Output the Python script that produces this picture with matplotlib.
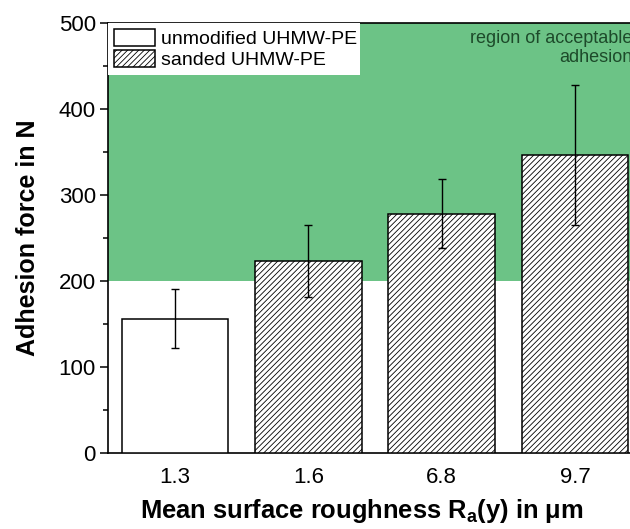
import matplotlib
matplotlib.use("Agg")
import matplotlib.pyplot as plt
from matplotlib.patches import Patch, Rectangle
from matplotlib.ticker import MultipleLocator

plt.rcParams['font.family'] = ['Liberation Sans', 'DejaVu Sans']
plt.rcParams['hatch.linewidth'] = 0.6
plt.rcParams['mathtext.fontset'] = 'custom'
plt.rcParams['mathtext.rm'] = 'Liberation Sans'
plt.rcParams['mathtext.bf'] = 'Liberation Sans:bold'

categories = ["1.3", "1.6", "6.8", "9.7"]
adhesion = [156, 223, 278, 346]
errors = [34, 42, 40, 81]
hatches = ["", "//////", "//////", "//////"]
legend_labels = ["unmodified UHMW-PE", "sanded UHMW-PE"]
region_low, region_high = 200, 500
region_text = "region of acceptable\nadhesion"

green = "#6cc386"
text_green = "#1d4a2a"

fig = plt.figure(figsize=(6.3, 5.29), dpi=100)
ax = fig.add_axes([0.1719, 0.1442, 0.8467, 0.8129])

ax.axhspan(region_low, region_high, color=green, zorder=0, lw=0)

x = list(range(len(categories)))
for xi, v, h in zip(x, adhesion, hatches):
    ax.bar(xi, v, width=0.8, facecolor="white", edgecolor="black",
           hatch=h, linewidth=1.1, zorder=3)
ax.errorbar(x, adhesion, yerr=errors, fmt="none", ecolor="black",
            elinewidth=1.0, capsize=3, capthick=1.0, zorder=4)

ax.set_xlim(-0.5, 3.5)
ax.set_ylim(0, 500)
ax.set_xticks(x)
ax.set_xticklabels(categories)
ax.yaxis.set_major_locator(MultipleLocator(100))
ax.yaxis.set_minor_locator(MultipleLocator(50))
ax.tick_params(axis="x", length=0, pad=10, labelsize=16)
ax.tick_params(axis="y", which="major", length=6, width=1.1, direction="out",
               pad=3, labelsize=16)
ax.tick_params(axis="y", which="minor", length=3.5, width=1.1, direction="out")
for s in ax.spines.values():
    s.set_linewidth(1.2)

ax.set_ylabel("Adhesion force in N", fontsize=18, fontweight="bold", labelpad=13)
ax.set_xlabel(r"Mean surface roughness R$_\mathbf{a}$(y) in $\mathbf{\mu}$m",
              fontsize=18.4, fontweight="bold", labelpad=7)
ax.xaxis.label.set_x(0.476)

# white legend background
ax.add_patch(Rectangle((0, 1 - 0.1209), 0.4724, 0.1209, transform=ax.transAxes,
                       facecolor="white", edgecolor="none", zorder=5))
handles = [Patch(facecolor="white", edgecolor="black", linewidth=1.1),
           Patch(facecolor="white", edgecolor="black", hatch="//////", linewidth=1.1)]
leg = ax.legend(handles, legend_labels, loc="upper left", bbox_to_anchor=(0, 1),
                borderaxespad=0, borderpad=0.3, frameon=False, fontsize=14,
                handlelength=2.1, handleheight=1.0, handletextpad=0.3,
                labelspacing=0.1)
leg.set_zorder(6)

ax.text(3.43, 491, region_text, ha="right", va="top", fontsize=13,
        color=text_green, linespacing=1.1, zorder=2, multialignment="right")

fig.savefig("out.png", dpi=100)
